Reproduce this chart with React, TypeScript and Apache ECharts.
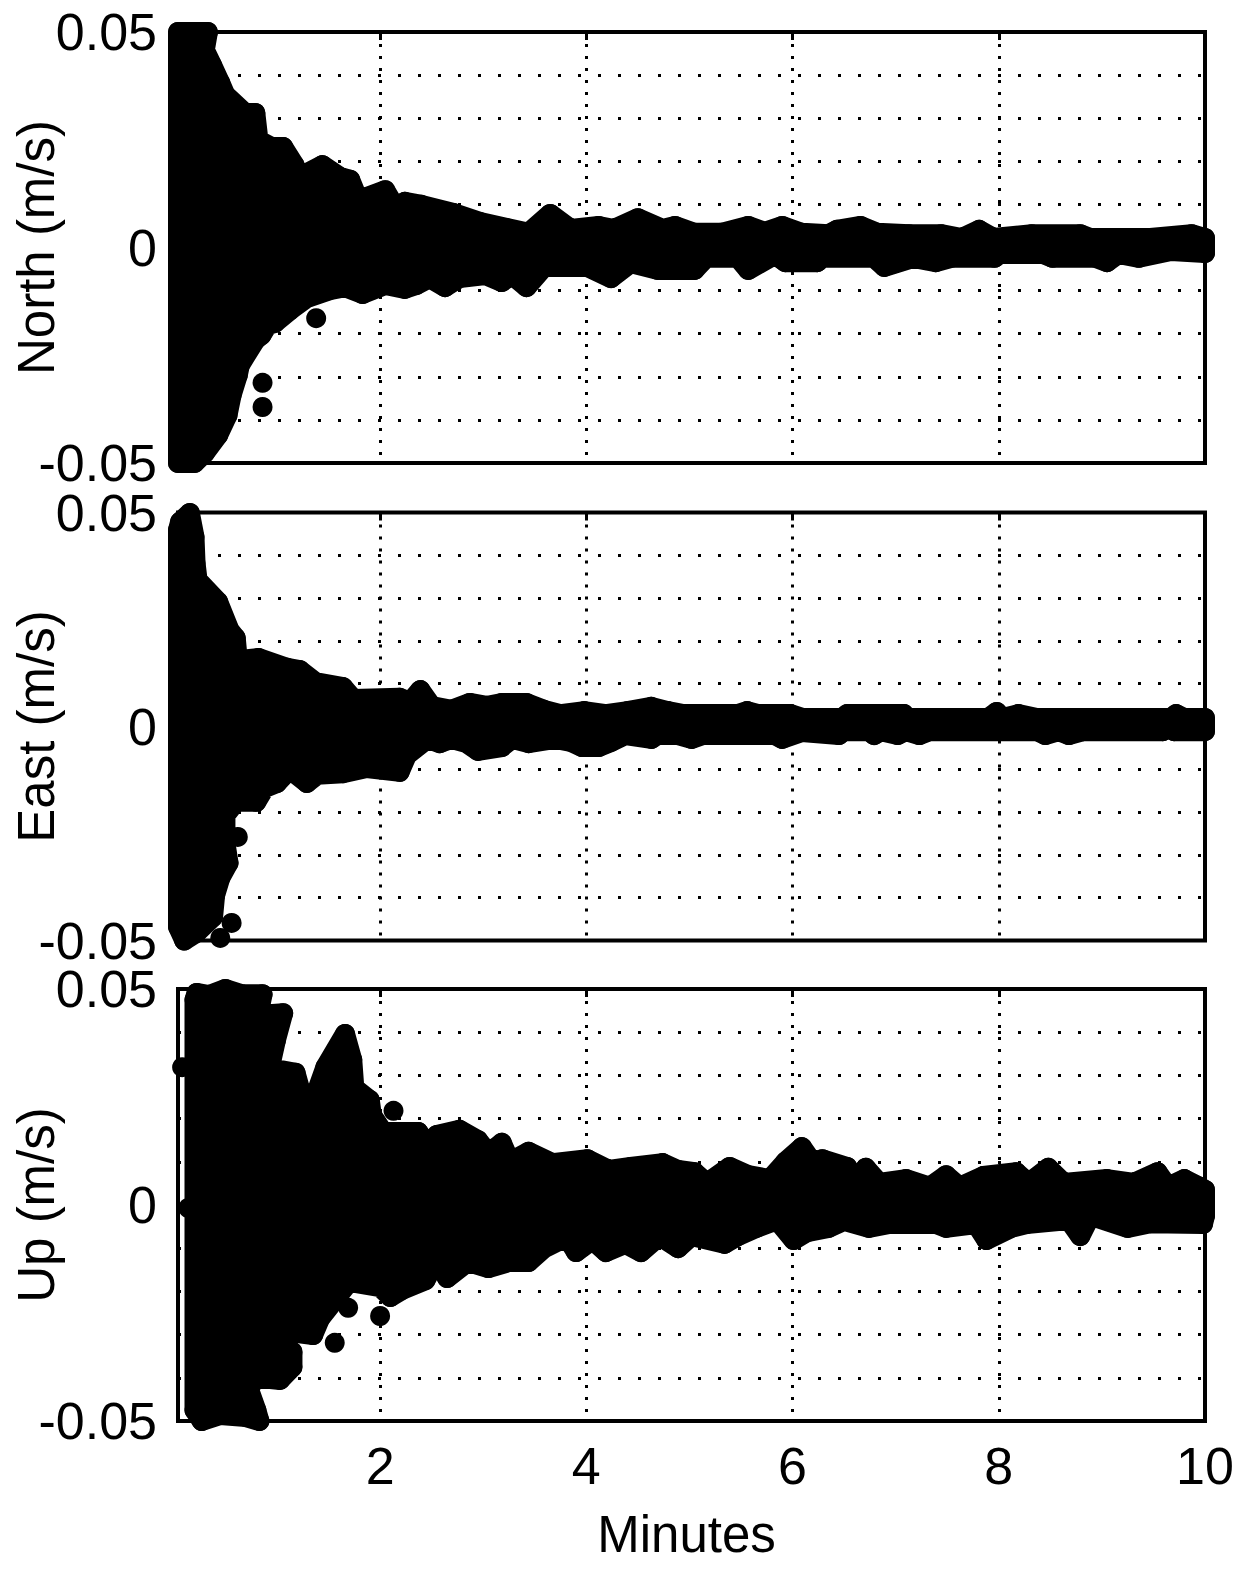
import React, { useEffect, useRef } from "react";
import * as echarts from "echarts";

const xTicks = [2, 4, 6, 8, 10];
const yLabels = [-0.05, 0, 0.05];
const panelNames = ["North (m/s)", "East (m/s)", "Up (m/s)"];
const xName = "Minutes";

const northUpper = [[0.04,0.05],[0.33,0.05],[0.3,0.0458],[0.37,0.0423],[0.45,0.0382],[0.5,0.0354],[0.69,0.0312],[0.79,0.0312],[0.82,0.0249],[0.95,0.0233],[1.06,0.0233],[1.17,0.0191],[1.22,0.0164],[1.44,0.0191],[1.61,0.0164],[1.71,0.0157],[1.79,0.011],[2.05,0.0133],[2.15,0.0092],[2.24,0.0106],[2.4,0.0099],[2.71,0.008],[2.97,0.0059],[3.23,0.0045],[3.44,0.0034],[3.65,0.0078],[3.85,0.0043],[4.12,0.005],[4.27,0.0043],[4.5,0.0068],[4.74,0.0043],[4.86,0.005],[5.05,0.0034],[5.31,0.0034],[5.57,0.005],[5.73,0.0036],[5.9,0.005],[6.09,0.0034],[6.35,0.0031],[6.43,0.0041],[6.66,0.005],[6.82,0.0034],[7.13,0.0031],[7.44,0.0031],[7.64,0.0022],[7.81,0.0041],[7.95,0.0022],[8.32,0.0031],[8.79,0.0031],[8.89,0.0022],[9.47,0.0022],[9.87,0.0031],[10,0.0022]];
const northLower = [[0.04,-0.05],[0.2,-0.05],[0.3,-0.0477],[0.43,-0.0435],[0.52,-0.0389],[0.56,-0.0342],[0.62,-0.0296],[0.64,-0.0273],[0.79,-0.0215],[0.85,-0.0203],[0.91,-0.018],[0.98,-0.0175],[1.13,-0.0145],[1.29,-0.0117],[1.51,-0.0099],[1.66,-0.0092],[1.83,-0.0108],[2.05,-0.0087],[2.24,-0.0096],[2.35,-0.0087],[2.48,-0.0071],[2.63,-0.0092],[2.77,-0.0071],[3.02,-0.0064],[3.18,-0.008],[3.28,-0.0064],[3.42,-0.0092],[3.59,-0.0045],[4.01,-0.0045],[4.24,-0.0071],[4.43,-0.0036],[4.69,-0.0052],[5.05,-0.0052],[5.16,-0.0024],[5.47,-0.0024],[5.57,-0.0052],[5.83,-0.0017],[5.93,-0.0034],[6.24,-0.0034],[6.29,-0.0024],[6.79,-0.0024],[6.89,-0.0045],[7.17,-0.0024],[7.39,-0.0034],[7.54,-0.0024],[7.96,-0.0024],[8.01,-0.0015],[8.43,-0.0015],[8.52,-0.0024],[8.94,-0.0024],[9.05,-0.0034],[9.16,-0.0015],[9.36,-0.0024],[9.67,-0.0008],[10,-0.0013]];
const northDots = [[0.86,-0.0314],[0.86,-0.037],[1.38,-0.0164]];

const eastUpper = [[0.04,0.0459],[0.06,0.0478],[0.155,0.0499],[0.2,0.0443],[0.21,0.0382],[0.23,0.0342],[0.43,0.0291],[0.54,0.0225],[0.6,0.0207],[0.62,0.0155],[0.82,0.016],[1.1,0.0137],[1.22,0.0132],[1.37,0.0104],[1.64,0.0092],[1.74,0.0064],[2.19,0.0067],[2.29,0.0057],[2.39,0.0085],[2.5,0.0048],[2.69,0.0039],[2.87,0.0055],[3.03,0.0048],[3.18,0.0055],[3.42,0.0055],[3.59,0.0039],[3.75,0.0029],[3.98,0.0036],[4.19,0.0029],[4.4,0.0036],[4.63,0.0046],[4.79,0.0036],[4.94,0.0029],[5.47,0.0029],[5.56,0.0036],[5.67,0.0029],[5.98,0.0029],[6.1,0.002],[6.48,0.002],[6.53,0.0029],[7.08,0.0029],[7.1,0.002],[7.9,0.002],[7.98,0.0034],[8.04,0.002],[8.19,0.0029],[8.37,0.002],[9.67,0.002],[9.72,0.0029],[9.8,0.002],[10,0.002]];
const eastLower = [[0.04,-0.0468],[0.1,-0.05],[0.22,-0.0482],[0.38,-0.0445],[0.4,-0.0394],[0.45,-0.0354],[0.53,-0.0319],[0.5,-0.0272],[0.5,-0.0207],[0.6,-0.0176],[0.8,-0.0176],[0.88,-0.0144],[1,-0.0132],[1.1,-0.0106],[1.17,-0.0109],[1.29,-0.0132],[1.39,-0.0113],[1.64,-0.0109],[1.87,-0.0097],[2.19,-0.0106],[2.26,-0.0067],[2.46,-0.0029],[2.58,-0.0039],[2.69,-0.0029],[2.84,-0.0039],[2.95,-0.0057],[3.18,-0.0048],[3.28,-0.0029],[3.44,-0.0039],[3.7,-0.0029],[3.85,-0.0036],[3.96,-0.0048],[4.12,-0.0048],[4.24,-0.0036],[4.38,-0.002],[4.63,-0.0029],[4.69,-0.002],[4.89,-0.002],[5.02,-0.0029],[5.13,-0.002],[5.83,-0.002],[5.9,-0.0029],[6.09,-0.0013],[6.45,-0.002],[6.5,-0.0011],[6.74,-0.0011],[6.79,-0.002],[6.86,-0.0011],[7.02,-0.002],[7.1,-0.0011],[7.23,-0.002],[7.33,-0.0011],[8.37,-0.0011],[8.45,-0.002],[8.58,-0.0011],[8.68,-0.002],[8.82,-0.0011],[9.59,-0.0011],[9.64,-0.0001],[9.7,-0.0011],[10,-0.0011]];
const eastDots = [[0.45,-0.0494],[0.56,-0.0459],[0.62,-0.0258]];

const upUpper = [[0.2,0.0475],[0.22,0.0491],[0.34,0.0486],[0.5,0.05],[0.66,0.0488],[0.86,0.0488],[0.82,0.044],[1.06,0.0444],[0.99,0.0382],[0.93,0.0317],[1.18,0.0306],[1.28,0.022],[1.38,0.0259],[1.47,0.0319],[1.66,0.0396],[1.73,0.0336],[1.75,0.0271],[1.9,0.0243],[1.92,0.0208],[2.03,0.0169],[2.37,0.0169],[2.48,0.0134],[2.55,0.0162],[2.77,0.0174],[2.95,0.015],[3.05,0.012],[3.18,0.0144],[3.26,0.01],[3.44,0.0123],[3.67,0.0097],[4.01,0.0106],[4.22,0.0081],[4.43,0.0088],[4.74,0.0097],[4.89,0.0081],[5.05,0.0076],[5.17,0.0051],[5.39,0.0088],[5.57,0.0069],[5.78,0.006],[5.93,0.01],[6.09,0.0134],[6.19,0.01],[6.29,0.0106],[6.53,0.0088],[6.63,0.0051],[6.71,0.0086],[6.84,0.0051],[7.1,0.006],[7.33,0.0042],[7.49,0.0069],[7.62,0.0042],[7.85,0.0067],[8.17,0.0076],[8.29,0.0051],[8.48,0.0086],[8.63,0.0051],[9.05,0.006],[9.31,0.0051],[9.54,0.0076],[9.64,0.0042],[9.8,0.006],[9.95,0.0042],[10,0.0035]];
const upLower = [[0.2,-0.0475],[0.27,-0.05],[0.45,-0.0486],[0.7,-0.0491],[0.83,-0.05],[0.8,-0.0475],[0.72,-0.0421],[0.82,-0.04],[1.03,-0.0405],[1.15,-0.0375],[1.15,-0.034],[0.98,-0.0317],[1.18,-0.0296],[1.35,-0.0301],[1.42,-0.0262],[1.7,-0.0178],[2,-0.019],[2.1,-0.0213],[2.21,-0.0197],[2.44,-0.0174],[2.55,-0.0127],[2.65,-0.0169],[2.85,-0.0132],[3.05,-0.0146],[3.25,-0.0132],[3.44,-0.0132],[3.59,-0.01],[3.81,-0.0074],[3.9,-0.0109],[4.06,-0.0081],[4.19,-0.0109],[4.38,-0.009],[4.53,-0.0109],[4.71,-0.0072],[4.89,-0.01],[5.02,-0.0072],[5.34,-0.009],[5.47,-0.0072],[5.65,-0.0053],[5.85,-0.0035],[6.01,-0.0081],[6.14,-0.0063],[6.35,-0.0053],[6.5,-0.0037],[6.74,-0.0053],[6.94,-0.0044],[7.39,-0.0044],[7.49,-0.0053],[7.78,-0.0044],[7.88,-0.0081],[8.12,-0.0053],[8.27,-0.0044],[8.68,-0.0035],[8.79,-0.0072],[8.89,-0.0025],[9.25,-0.0053],[9.47,-0.0042],[9.98,-0.0044],[10,-0.0025]];
const upDots = [[0.08,0.0319],[0.14,-0.0007],[2.13,0.0218],[1.56,-0.0319],[1.69,-0.0238],[2,-0.0257]];

const uppers = [northUpper, eastUpper, upUpper];
const lowers = [northLower, eastLower, upLower];
const dots = [northDots, eastDots, upDots];

const FONT = "Liberation Sans";
const grids = [
  { left: 178, width: 1027, top: 32, height: 431 },
  { left: 178, width: 1027, top: 512.5, height: 428 },
  { left: 178, width: 1027, top: 989, height: 432 },
];

export default function App() {
  const ref = useRef<HTMLDivElement>(null);
  useEffect(() => {
    document.body.style.margin = "0";
    const chart = echarts.init(ref.current!, null, { renderer: "svg" });
    const xBase = { type: "value", min: 0.04, max: 10 };
    const xAxis: any[] = [];
    grids.forEach((_, i) => {
      xAxis.push({
        ...xBase,
        gridIndex: i,
        position: "bottom",
        axisLine: { show: false },
        axisTick: { show: true, inside: true, length: 8, customValues: xTicks, lineStyle: { color: "#000", width: 3 } },
        axisLabel: {
          show: i === 2,
          customValues: xTicks,
          margin: 19,
          color: "#000",
          fontSize: 52,
          fontFamily: FONT,
          formatter: (v: number) => String(v),
        },
        splitLine: { show: true, lineStyle: { color: "#000", width: 3, type: [3, 9] } },
        name: i === 2 ? xName : "",
        nameLocation: "middle",
        nameGap: 88,
        nameTextStyle: { color: "#000", fontSize: 51, fontFamily: FONT, padding: [0, 10, 0, 0] },
      });
    });
    grids.forEach((_, i) => {
      xAxis.push({
        ...xBase,
        gridIndex: i,
        position: "top",
        axisLine: { show: false },
        axisTick: { show: true, inside: true, length: 8, customValues: xTicks, lineStyle: { color: "#000", width: 3 } },
        axisLabel: { show: false },
        splitLine: { show: false },
      });
    });
    const yAxis = grids.map((_, i) => ({
      type: "value",
      gridIndex: i,
      min: -0.05,
      max: 0.05,
      interval: 0.01,
      axisLine: { show: false },
      axisTick: { show: false },
      axisLabel: {
        customValues: yLabels,
        margin: 21,
        color: "#000",
        fontSize: 52,
        lineHeight: 40,
        fontFamily: FONT,
        formatter: (v: number) => (v === 0 ? "0" : String(v)),
      },
      splitLine: { show: true, lineStyle: { color: "#000", width: 3, type: [3, 17] } },
      name: panelNames[i],
      nameLocation: "middle",
      nameRotate: 90,
      nameGap: 116,
      nameMoveOverlap: false,
      nameTextStyle: { color: "#000", fontSize: 51, fontFamily: FONT },
    }));
    const series: any[] = [];
    grids.forEach((_, i) => {
      const outline = [...uppers[i], ...[...lowers[i]].reverse()];
      series.push({
        type: "custom",
        xAxisIndex: i,
        yAxisIndex: i,
        silent: true,
        z: 3,
        data: [[0.04, 0]],
        renderItem: (_p: any, api: any) => ({
          type: "polygon",
          shape: { points: outline.map((p) => api.coord(p)) },
          style: { fill: "#000", stroke: "#000", lineWidth: 20, lineJoin: "round" },
        }),
      });
      series.push({
        type: "scatter",
        xAxisIndex: i,
        yAxisIndex: i,
        clip: false,
        silent: true,
        z: 4,
        symbol: "circle",
        symbolSize: 20,
        itemStyle: { color: "#000", opacity: 1 },
        data: [...uppers[i], ...lowers[i], ...dots[i]],
      });
    });
    chart.setOption({
      animation: false,
      backgroundColor: "#fff",
      grid: grids.map((g) => ({ ...g, show: true, outerBoundsMode: "none", borderColor: "#000", borderWidth: 4, backgroundColor: "#fff" })),
      xAxis,
      yAxis,
      series,
    });
    return () => chart.dispose();
  }, []);
  return <div ref={ref} style={{ width: 1240, height: 1571 }} />;
}
